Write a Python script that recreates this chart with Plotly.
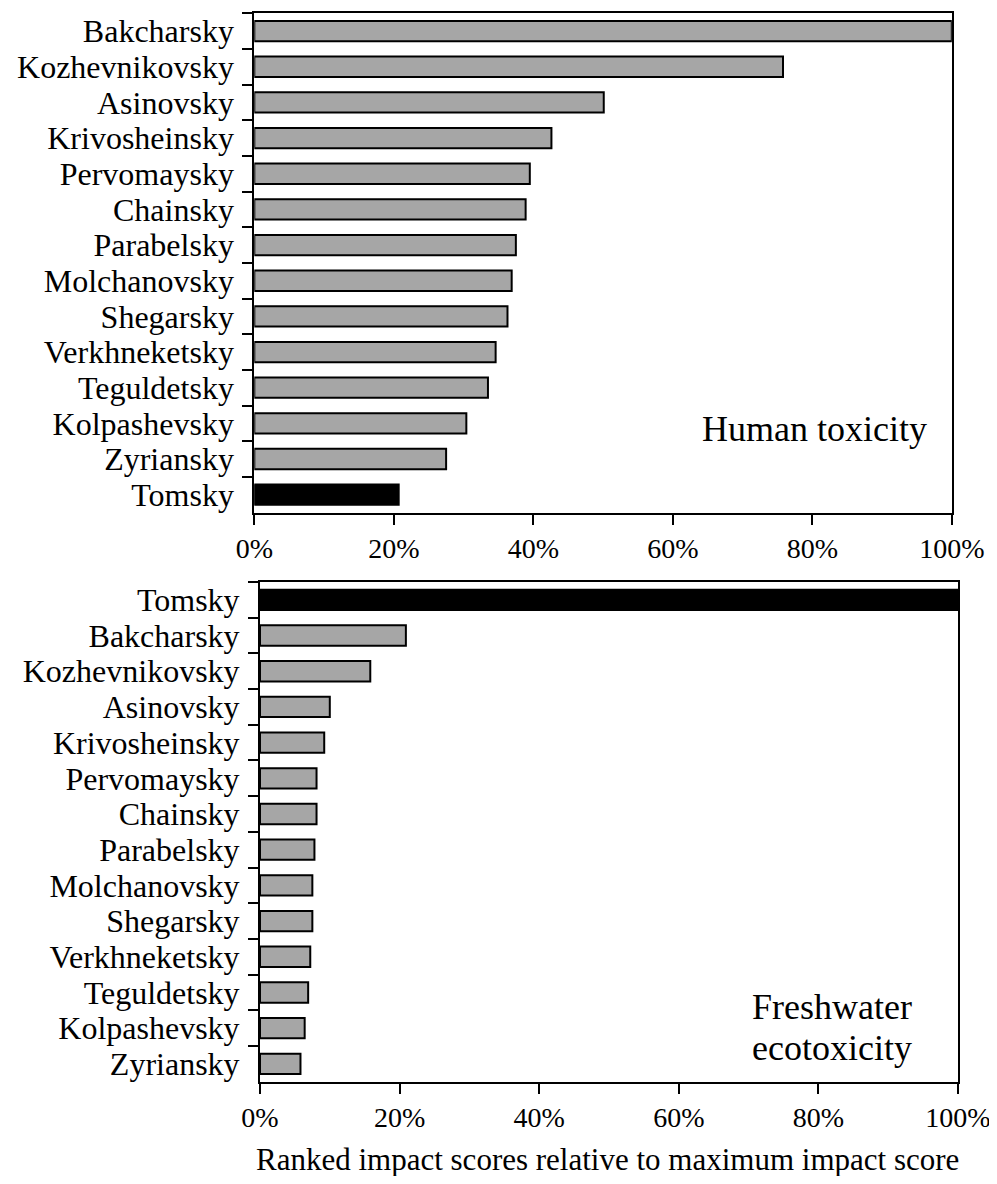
import plotly.graph_objects as go

# page body has an 8px margin, so the figure is placed at (8, 8) in the window
OFF = 8
FW, FH = 997 - OFF, 1184 - 2 * OFF

# ---- data ----
human_districts = ["Bakcharsky", "Kozhevnikovsky", "Asinovsky", "Krivosheinsky", "Pervomaysky",
                   "Chainsky", "Parabelsky", "Molchanovsky", "Shegarsky", "Verkhneketsky",
                   "Teguldetsky", "Kolpashevsky", "Zyriansky", "Tomsky"]
human_values = [100.0, 75.8, 50.1, 42.6, 39.5, 38.9, 37.5, 36.9, 36.3, 34.6, 33.5, 30.4, 27.5, 20.7]

fresh_districts = ["Tomsky", "Bakcharsky", "Kozhevnikovsky", "Asinovsky", "Krivosheinsky",
                   "Pervomaysky", "Chainsky", "Parabelsky", "Molchanovsky", "Shegarsky",
                   "Verkhneketsky", "Teguldetsky", "Kolpashevsky", "Zyriansky"]
fresh_values = [100.0, 20.9, 15.8, 10.0, 9.2, 8.1, 8.1, 7.8, 7.5, 7.5, 7.2, 6.9, 6.4, 5.8]

x_ticks = [0, 20, 40, 60, 80, 100]
x_tick_labels = ["0%", "20%", "40%", "60%", "80%", "100%"]
highlight = "Tomsky"

FONT = "Liberation Serif"
GREY = "#a6a6a6"


def px_x(p):
    return (p - OFF) / FW


def px_y(p):
    return 1 - (p - OFF) / FH


def colors(cats):
    return ["#000000" if c == highlight else GREY for c in cats]


fig = go.Figure()
fig.add_trace(go.Bar(
    y=human_districts, x=human_values, orientation="h",
    marker=dict(color=colors(human_districts), line=dict(color="black", width=2)),
    xaxis="x", yaxis="y", showlegend=False,
))
fig.add_trace(go.Bar(
    y=fresh_districts, x=fresh_values, orientation="h",
    marker=dict(color=colors(fresh_districts), line=dict(color="black", width=2)),
    xaxis="x2", yaxis="y2", showlegend=False,
))

xcommon = dict(
    range=[0, 100], tickmode="array", tickvals=x_ticks, ticktext=x_tick_labels,
    ticks="outside", ticklen=10,
    tickwidth=2, tickcolor="black", showline=True, linecolor="black", linewidth=2,
    mirror=True, showgrid=False, zeroline=False, automargin=False,
    tickfont=dict(family=FONT, size=28, color="black"),
)
ycommon = dict(
    type="category", autorange="reversed", tickmode="linear", tick0=0, dtick=1,
    ticks="outside", ticklen=10, tickwidth=2,
    tickcolor="black", tickson="boundaries", showline=True, linecolor="black",
    linewidth=2, mirror=True, showgrid=False, zeroline=False, automargin=False,
    ticklabelstandoff=12,
    tickfont=dict(family=FONT, size=32, color="black"),
)

fig.update_layout(
    width=FW, height=FH,
    margin=dict(l=0, r=0, t=0, b=0),
    paper_bgcolor="white", plot_bgcolor="white",
    bargap=0.43,
    xaxis=dict(domain=[px_x(254.3), px_x(951.8)], anchor="y", **xcommon),
    yaxis=dict(domain=[px_y(512.5), px_y(13.3)], anchor="x", **ycommon),
    xaxis2=dict(domain=[px_x(260), px_x(958)], anchor="y2", **xcommon),
    yaxis2=dict(domain=[px_y(1081.7), px_y(582)], anchor="x2", **ycommon),
    annotations=[
        dict(text="Human toxicity", xref="paper", yref="paper",
             x=px_x(929), y=px_y(429), xanchor="right", yanchor="middle",
             showarrow=False, font=dict(family=FONT, size=36, color="black")),
        dict(text="Freshwater", xref="paper", yref="paper",
             x=px_x(832), y=px_y(1007), xanchor="center", yanchor="middle",
             showarrow=False, font=dict(family=FONT, size=36, color="black")),
        dict(text="ecotoxicity", xref="paper", yref="paper",
             x=px_x(832), y=px_y(1048), xanchor="center", yanchor="middle",
             showarrow=False, font=dict(family=FONT, size=36, color="black")),
        dict(text="Ranked impact scores relative to maximum impact score", xref="paper", yref="paper",
             x=px_x(607), y=px_y(1159), xanchor="center", yanchor="middle",
             showarrow=False, font=dict(family=FONT, size=31, color="black")),
    ],
)

fig.write_html("out.html")
